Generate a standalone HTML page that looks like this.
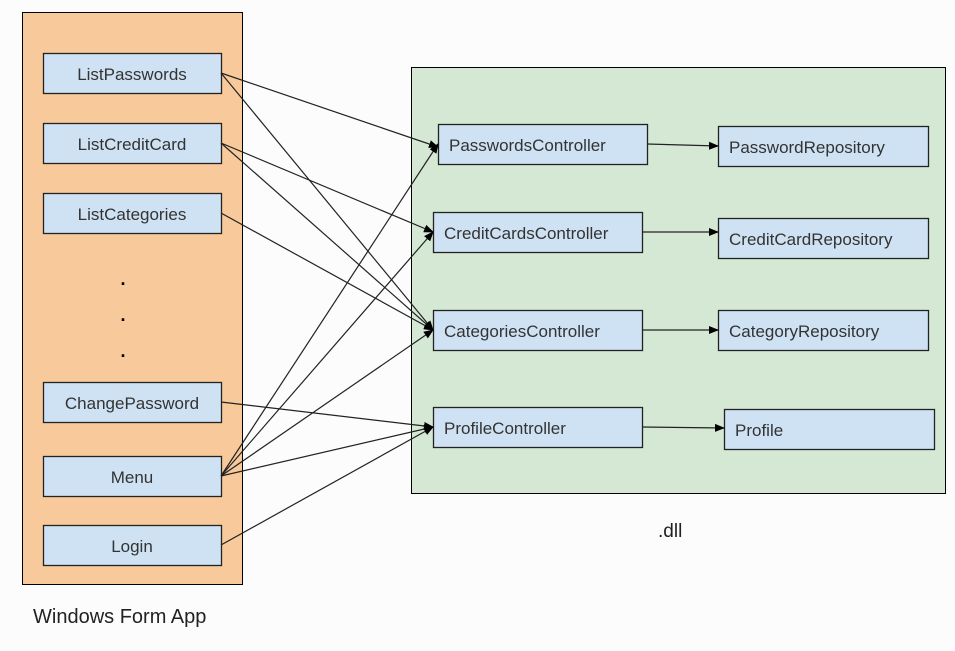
<!DOCTYPE html>
<html><head><meta charset="utf-8"><style>
html,body{margin:0;padding:0;background:#fff;}
svg{display:block;font-family:"Liberation Sans",Arial,sans-serif;}
</style></head><body>
<svg width="955" height="651" viewBox="0 0 955 651" xmlns="http://www.w3.org/2000/svg">
<defs>
<marker id="a" markerWidth="10" markerHeight="8" refX="9" refY="4" orient="auto" markerUnits="userSpaceOnUse">
<path d="M0,0 L10,4 L0,8 z" fill="#000"/>
</marker>
</defs>
<rect x="0" y="0" width="955" height="651" fill="#fcfcfc"/>
<rect x="22.5" y="12.5" width="220" height="572" fill="#f8c99b" stroke="#000"/>
<rect x="411.5" y="67.5" width="534" height="426" fill="#d5e8d4" stroke="#000"/>
<g fill="#cfe2f3" stroke="#222" stroke-width="1.3">
<rect x="43.5" y="53.5" width="178" height="40"/>
<rect x="43.5" y="123.5" width="178" height="40"/>
<rect x="43.5" y="193.5" width="178" height="40"/>
<rect x="43.5" y="382.5" width="178" height="40"/>
<rect x="43.5" y="456.5" width="178" height="40"/>
<rect x="43.5" y="525.5" width="178" height="40"/>
<rect x="438.5" y="124.5" width="209" height="40"/>
<rect x="433.5" y="212.5" width="209" height="40"/>
<rect x="433.5" y="310.5" width="209" height="40"/>
<rect x="433.5" y="407.5" width="209" height="40"/>
<rect x="718.5" y="126.5" width="210" height="40"/>
<rect x="718.5" y="218.5" width="210" height="40"/>
<rect x="718.5" y="310.5" width="210" height="40"/>
<rect x="724.5" y="409.5" width="210" height="40"/>
</g>
<g fill="#333" font-size="17" text-anchor="middle">
<text x="132" y="80">ListPasswords</text>
<text x="132" y="150">ListCreditCard</text>
<text x="132" y="220">ListCategories</text>
<text x="132" y="409">ChangePassword</text>
<text x="132" y="483">Menu</text>
<text x="132" y="552">Login</text>
</g>
<g fill="#000" font-size="18" font-weight="bold" text-anchor="middle">
<text x="123" y="285">.</text><text x="123" y="321">.</text><text x="123" y="357">.</text>
</g>
<g fill="#333" font-size="17">
<text x="449" y="151">PasswordsController</text>
<text x="444" y="239">CreditCardsController</text>
<text x="444" y="337">CategoriesController</text>
<text x="444" y="434">ProfileController</text>
<text x="729" y="153">PasswordRepository</text>
<text x="729" y="245">CreditCardRepository</text>
<text x="729" y="337">CategoryRepository</text>
<text x="735" y="436">Profile</text>
</g>
<g stroke="#222" stroke-width="1.2" fill="none" marker-end="url(#a)">
<line x1="221" y1="73" x2="438" y2="147"/>
<line x1="221" y1="73" x2="433" y2="330"/>
<line x1="221" y1="143" x2="433" y2="232"/>
<line x1="221" y1="143" x2="433" y2="330"/>
<line x1="221" y1="213" x2="433" y2="330"/>
<line x1="221" y1="402" x2="433" y2="427"/>
<line x1="221" y1="476" x2="438" y2="144"/>
<line x1="221" y1="476" x2="433" y2="232"/>
<line x1="221" y1="476" x2="433" y2="330"/>
<line x1="221" y1="476" x2="433" y2="427"/>
<line x1="221" y1="545" x2="433" y2="427"/>
<line x1="647" y1="144" x2="718" y2="146"/>
<line x1="642" y1="232" x2="718" y2="232"/>
<line x1="642" y1="330" x2="718" y2="330"/>
<line x1="642" y1="427" x2="724" y2="428"/>
</g>
<text x="658" y="537" font-size="19" fill="#222">.dll</text>
<text x="33" y="623" font-size="20" fill="#222">Windows Form App</text>
</svg>
</body></html>
